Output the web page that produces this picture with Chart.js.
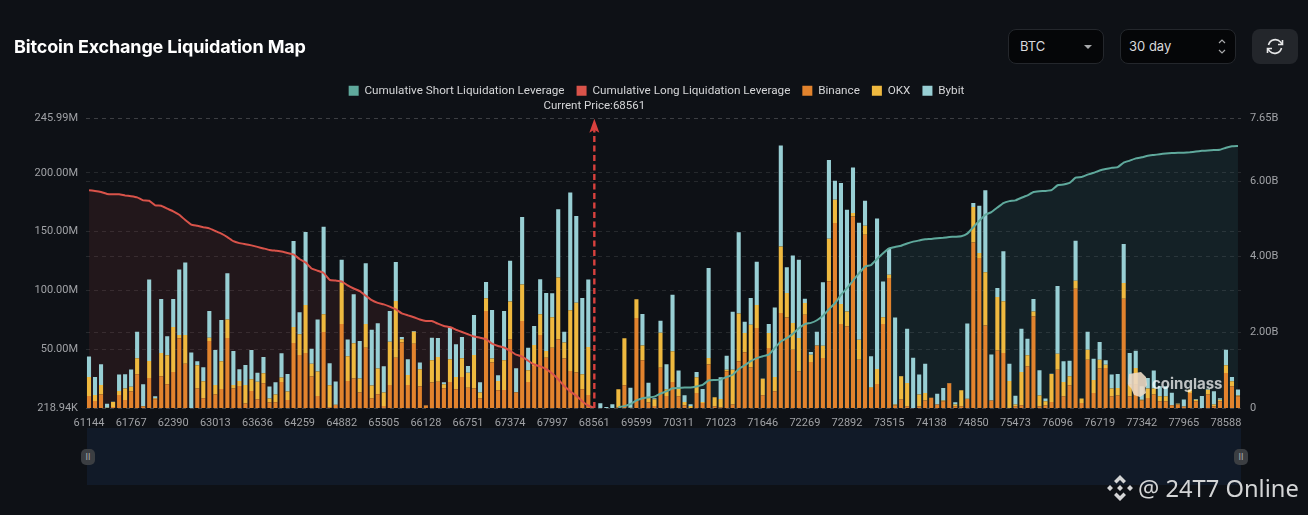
<!DOCTYPE html>
<html>
<head>
<meta charset="utf-8">
<title>Bitcoin Exchange Liquidation Map</title>
<script src="https://cdn.jsdelivr.net/npm/chart.js@4/dist/chart.umd.min.js"></script>
<style>
  html, body { margin: 0; padding: 0; background: #0e1116; }
  body { width: 1308px; height: 515px; position: relative; overflow: hidden; font-family: Inter, sans-serif; }
  #chart { position: absolute; left: 0; top: 0; }
  #title { position: absolute; left: 14px; top: 35px; color: #fff; font-size: 18px; font-weight: 700; letter-spacing: -0.16px; line-height: 24px; }
  .ctl { position: absolute; top: 29px; height: 33px; line-height: 33px; background: #050608; border: 1px solid #24272c; border-radius: 8px; color: #d8d9db; font-size: 13px; box-sizing: content-box; }
  #coin { left: 1008px; width: 94px; }
  #coin span { margin-left: 11px; }
  #period span { margin-left: 8px; }
  #coin svg, #period svg { position: absolute; top: 0; }
  #period { left: 1120px; width: 114px; }
  #refresh { position: absolute; left: 1252px; top: 29px; width: 46px; height: 35px; background: #23262b; border-radius: 8px; }
  #slider { position: absolute; left: 87px; top: 428px; width: 1154px; height: 57px; background: #111a28; }
  .handle { position: absolute; top: 449px; width: 14px; height: 16px; border-radius: 5px; background: #3b3e42; color: #a9abae; font-size: 9px; line-height: 15px; text-align: center; }
  #mark { position: absolute; left: 1152px; top: 374px; color: rgba(255,255,255,.72); font-size: 15px; font-weight: 700; }
  #stamp { position: absolute; left: 1138px; top: 471px; color: #d4d5d6; font-family: "Noto Sans", sans-serif; font-size: 23.7px; line-height: 34px; white-space: nowrap; }
</style>
</head>
<body>
<canvas id="chart" width="1308" height="515"></canvas>
<div id="title">Bitcoin Exchange Liquidation Map</div>
<div class="ctl" id="coin"><span>BTC</span>
  <svg style="left:74px" width="12" height="33"><path d="M1 15h8l-4 4z" fill="#a8a9ab"/></svg>
</div>
<div class="ctl" id="period"><span>30 day</span>
  <svg style="left:95px" width="12" height="33"><path d="M3 13l3-3 3 3M3 20l3 3 3-3" fill="none" stroke="#a8a9ab" stroke-width="1.2"/></svg>
</div>
<div id="refresh">
  <svg width="46" height="35" fill="none" stroke="#e6e7e8" stroke-width="1.6">
    <path d="M16.5 16a7 7 0 0 1 12-3l1.5 2M29.5 19a7 7 0 0 1-12 3l-1.5-2"/>
    <path d="M30.5 11v4.500h-4.500M15.500 24v-4.500h4.500"/>
  </svg>
</div>
<div id="slider"></div>
<div class="handle" style="left:81px">II</div>
<div class="handle" style="left:1234px">II</div>
<svg style="position:absolute;left:1125px;top:371px" width="24" height="27">
  <path d="M4 3l12-2 5 5 1 8-2 3 1 5-6 4-6-2-3-7-3-3z" fill="#ecd9c4" opacity=".9"/>
</svg>
<div id="mark">coinglass</div>
<svg style="position:absolute;left:1106px;top:474px" width="28" height="28" fill="#d4d5d6">
  <path d="M14 1l6 6-2.500 2.500L14 6l-3.500 3.500L8 7zM14 27l6-6-2.500-2.500L14 22l-3.500-3.500L8 21zM1 14l3-3 3 3-3 3zM21 14l3-3 3 3-3 3zM14 11l3 3-3 3-3-3z"/>
</svg>
<div id="stamp">@ 24T7 Online</div>

<script>
// Data (bars in millions, cumulative lines in billions)
const tickLabels = ["61144", "61767", "62390", "63013", "63636", "64259", "64882", "65505", "66128", "66751", "67374", "67997", "68561", "69599", "70311", "71023", "71646", "72269", "72892", "73515", "74138", "74850", "75473", "76096", "76719", "77342", "77965", "78588"];
const leftTickValues = [0.21894, 50, 100, 150, 200, 245.99];
const leftTickLabels = ["218.94K", "50.00M", "100.00M", "150.00M", "200.00M", "245.99M"];
const rightTickValues = [0, 2, 4, 6, 7.65];
const rightTickLabels = ["0", "2.00B", "4.00B", "6.00B", "7.65B"];
const currentPrice = "68561";
const currentIndex = 84;
const shortStart = 88;

const binance = [10.5, 6.2, 11.6, 0.3, 1.1, 11.3, 7.1, 14.2, 28.9, 1.4, 25.8, 7.6, 27.2, 20.4, 30.8, 59.4, 37.9, 0.2, 16.7, 8.5, 57.2, 11.6, 16.4, 59.7, 16.7, 19, 4, 14.7, 7.6, 21.2, 4.8, 5.1, 22.4, 7.1, 55.5, 45.3, 47, 26.9, 10.5, 64.8, 1.1, 2.8,
  71.6, 23.2, 25.2, 13.3, 51.5, 8.5, 11.9, 2, 19.8, 43, 55.8, 19.8, 54.9, 18.4, 2.4, 21.8, 22.6, 17, 22.4, 16.1, 26.6, 17.5, 16.7, 8.5, 82.6, 38.8, 15.3, 15.6, 58.6, 13.3, 74.1, 22.4, 35.9, 62.3, 43, 51.5, 58.6, 42.2, 31.7, 30.3, 16.1, 11.3,
  0, 0.1, 0, 0, 0.6, 19.5, 0.2, 76.7, 40.7, 4.8, 2, 34.5, 10.5, 22.4, 10.2, 2.5, 0.2, 13, 4.5, 37.1, 1.7, 0.8, 31.4, 3.1, 39.9, 47.5, 34.8, 68.2, 11, 51.2, 14.4, 80.9, 77.2, 49.8, 31.4, 79.5, 39.3, 53.2, 42.7, 107.8, 157.3, 71.6, 69.6, 163, 41.3, 147.4, 17.3, 20.7, 71.6, 110.6, 2.5, 7.4, 1.7, 0.1, 1.7, 6.5, 8.8, 3.1, 5.9, 21.2, 1.7, 1.7, 7.9,
  140.9, 127.6, 70.2, 6.5, 49, 47, 0.2, 1.7, 2.5, 35.7, 78.1, 1.7, 2.5, 5.4, 32.8, 10.2, 19.5, 101.6, 4.5, 41.3, 13, 33.7, 34.2, 10.2, 10.8, 93.1, 10.2, 20.1, 6.5, 8.8, 11.6, 5.9, 5.9, 2.5, 3.1, 1.4, 13, 5.9, 0.1, 11.6, 1.7, 5.9, 30, 18.7, 10.2];

const okx = [16.1, 5.1, 8.2, 0.2, 4.2, 3.4, 9.6, 4, 13.6, 0.6, 14.4, 0.8, 19.8, 24.6, 38.2, 2.8, 24.3, 0.1, 19.8, 14.4, 2.8, 8.2, 23.5, 15.8, 3.1, 4.2, 15.8, 9.9, 15, 8.5, 3.4, 6.5, 3.7, 7.1, 13.6, 17.5, 40.7, 11, 20.7, 15, 18.4, 0.1,
  35.1, 20.9, 30, 11.9, 20.1, 10.8, 21.8, 11.3, 36.8, 48.1, 2.8, 8.5, 10.2, 14.7, 0.1, 19, 20.9, 3.4, 19.2, 10.5, 15.8, 12.7, 28.6, 4.8, 10.8, 3.4, 7.9, 25.2, 32, 0.2, 31.1, 9.9, 17.8, 17.5, 5.7, 25.8, 52.4, 13.6, 51.5, 59.4, 12.7, 40.8,
  0, 0.1, 0, 0.1, 15.5, 39.9, 0.2, 15.8, 12.7, 4.2, 5.7, 29.7, 5.7, 26, 7.1, 2.8, 1.7, 13.3, 0.8, 5.7, 7.6, 7.1, 1.4, 29.7, 40.7, 16.4, 36.2, 19.5, 14.1, 12.7, 12.2, 56.6, 20.7, 22.6, 28.3, 9.9, 6.2, 0.1, 10.5, 36.2, 19.8, 17, 12.7, 2.8, 17, 7.6, 0.6, 12.7, 5.7, 2.8, 0.6, 19.8, 19.8, 0.1, 9.9, 6.5, 0.1, 0.1, 0.6, 0.1, 1.4, 13.6, 0.1,
  30, 4.2, 45.3, 0.1, 45.6, 43.9, 22.9, 1.4, 28.3, 9.3, 4.2, 9.1, 3.4, 23.8, 13.6, 12.2, 7.6, 6.8, 3.7, 8.5, 11, 7.6, 2.8, 6.5, 6.5, 13.3, 9.9, 14.1, 0.8, 7.9, 5.1, 4.2, 4.2, 0.1, 0.8, 0.1, 2.8, 1.4, 0.1, 4.2, 1.4, 1.4, 6.5, 4.2, 0.6];

const bybit = [17.3, 15.3, 17.5, 3.4, 0.2, 13.9, 12.2, 14.7, 22.6, 18.4, 69.1, 1.7, 45.8, 16.1, 23.8, 55.7, 61.7, 47, 3.4, 11.9, 22.6, 29.7, 35.1, 39.3, 28.9, 9.9, 17, 24.9, 7.6, 13.9, 10.2, 10.5, 20.7, 15, 73, 18.7, 62, 12.7, 44.1, 74.4, 18.7, 19.8,
  19.5, 14.4, 41.6, 32, 51.5, 47.3, 38.5, 22.4, 26, 33.1, 2, 13.3, 0.6, 5.7, 0.1, 19.2, 16.1, 1.7, 26.9, 27.7, 18.1, 5.7, 34, 8.8, 13.9, 41.3, 4.8, 41.9, 34.8, 20.4, 57.2, 19, 16.1, 29.7, 49.2, 20.4, 58, 9.3, 100.2, 73.6, 64.8, 57.2,
  0, 4, 1.1, 3.4, 0.1, 0.1, 17, 0.1, 26.6, 12.7, 0.8, 10.2, 21.2, 48.1, 14.7, 5.7, 1.4, 4.5, 11, 76.4, 0.1, 18.4, 11.9, 49.2, 69, 9.6, 22.6, 36.8, 0.1, 7.6, 59.1, 85.7, 21.8, 57.4, 66.5, 3.7, 2.3, 11.6, 53.8, 66.8, 16.1, 102.7, 86.3, 38.8, 99.3, 21.2, 26.3, 127.9, 30.3, 22.1, 74.1, 0.1, 46.1, 42.7, 17, 24.9, 0.1, 9.1, 10.8, 0.1, 2, 0.1, 64,
  3.4, 40.2, 69.6, 39, 7.6, 42.4, 14.7, 7.6, 36.8, 14.1, 10.5, 21.5, 2.3, 0.1, 57.4, 17.5, 13.3, 34, 0.1, 15.3, 18.1, 15, 3.7, 11.9, 11.9, 33.1, 26.9, 14.7, 11.3, 9.1, 15.3, 8.5, 8.5, 10.5, 0.1, 5.9, 0.1, 0.6, 10.2, 0.8, 11.3, 1.1, 13.3, 3.7, 5.1];

const longCum = [5.76, 5.74, 5.71, 5.66, 5.65, 5.65, 5.62, 5.60, 5.57, 5.49, 5.48, 5.36, 5.35, 5.27, 5.20, 5.11, 4.97, 4.85, 4.82, 4.78, 4.75, 4.68, 4.61, 4.52, 4.41, 4.36, 4.33, 4.30, 4.26, 4.22, 4.18, 4.16, 4.14, 4.10, 4.06, 3.94, 3.85, 3.69, 3.63, 3.57, 3.39, 3.37,
  3.35, 3.24, 3.16, 3.09, 2.97, 2.85, 2.78, 2.74, 2.68, 2.61, 2.50, 2.45, 2.40, 2.34, 2.30, 2.30, 2.23, 2.17, 2.14, 2.07, 2.01, 1.95, 1.89, 1.86, 1.82, 1.70, 1.64, 1.60, 1.51, 1.41, 1.36, 1.25, 1.15, 1.10, 1.03, 0.91, 0.76, 0.58, 0.44, 0.32, 0.18, 0.06, 0];

const shortCum = [0.02, 0.05, 0.1, 0.2, 0.26, 0.28, 0.3, 0.38, 0.44, 0.52, 0.53, 0.54, 0.54, 0.57, 0.61, 0.73, 0.74, 0.75, 0.82, 0.88, 1.03, 1.13, 1.24, 1.32, 1.37, 1.41, 1.59, 1.76, 1.85, 1.96, 2.11, 2.22, 2.25, 2.32, 2.44, 2.61, 2.77, 2.99, 3.17, 3.37, 3.56, 3.74, 3.78, 3.94, 4.09, 4.22, 4.26, 4.29, 4.35, 4.40, 4.43, 4.46, 4.47, 4.49, 4.50, 4.52, 4.53, 4.54, 4.61, 4.78, 4.95, 5.11,
  5.18, 5.30, 5.42, 5.47, 5.49, 5.56, 5.62, 5.71, 5.73, 5.74, 5.76, 5.89, 5.91, 5.95, 6.09, 6.11, 6.17, 6.22, 6.28, 6.32, 6.35, 6.37, 6.49, 6.54, 6.60, 6.63, 6.67, 6.69, 6.71, 6.73, 6.74, 6.75, 6.75, 6.76, 6.78, 6.80, 6.81, 6.82, 6.83, 6.88, 6.92, 6.93];

// One label per bar, only every 7th one is printed
const categories = binance.map((v, i) => (i % 7 === 0 ? tickLabels[i / 7] : ""));

// Extra room under the legend and a small nudge to the right
const legendTweak = {
  id: "legendTweak",
  beforeInit(chart) {
    const legend = chart.legend;
    const fit = legend.fit;
    const draw = legend.draw;
    legend.fit = function () {
      fit.call(this);
      this.height += 12;
    };
    legend.draw = function () {
      chart.ctx.save();
      chart.ctx.translate(2.5, 0);
      draw.call(this);
      chart.ctx.restore();
    };
  },
};

// Dashed arrow and label at the current price
const priceMarker = {
  id: "priceMarker",
  afterDatasetsDraw(chart) {
    const { ctx, chartArea, scales } = chart;
    const x = scales.x.getPixelForValue(currentIndex);
    ctx.save();
    ctx.strokeStyle = "#d8413e";
    ctx.fillStyle = "#d8413e";
    ctx.lineWidth = 2.4;
    ctx.setLineDash([6, 3.5]);
    ctx.beginPath();
    ctx.moveTo(x, chartArea.bottom);
    ctx.lineTo(x, chartArea.top + 10);
    ctx.stroke();
    ctx.setLineDash([]);
    ctx.beginPath();
    ctx.moveTo(x, chartArea.top);
    ctx.lineTo(x + 5, chartArea.top + 14);
    ctx.lineTo(x, chartArea.top + 11);
    ctx.lineTo(x - 5, chartArea.top + 14);
    ctx.closePath();
    ctx.fill();
    ctx.fillStyle = "#d5d6d8";
    ctx.font = "11.5px Roboto";
    ctx.textAlign = "center";
    ctx.textBaseline = "middle";
    ctx.fillText("Current Price:" + currentPrice, x, chartArea.top - 13);
    ctx.restore();
  },
};

new Chart(document.getElementById("chart"), {
  type: "bar",
  data: {
    labels: categories,
    datasets: [
      {
        type: "line",
        label: "Cumulative Short Liquidation Leverage",
        data: Array(shortStart).fill(null).concat(shortCum),
        yAxisID: "y1",
        order: 0,
        borderColor: "#5fa99c",
        backgroundColor: "#5fa99c",
        borderWidth: 2,
        pointRadius: 0,
        tension: 0.1,
        fill: { target: "origin", above: "rgba(70, 160, 170, 0.11)" },
      },
      {
        type: "line",
        label: "Cumulative Long Liquidation Leverage",
        data: longCum,
        yAxisID: "y1",
        order: 0,
        borderColor: "#d9534a",
        backgroundColor: "#d9534a",
        borderWidth: 2,
        pointRadius: 0,
        tension: 0.1,
        fill: { target: "origin", above: "rgba(217, 83, 74, 0.1)" },
      },
      { label: "Binance", data: binance, order: 1, backgroundColor: "#e2832d" },
      { label: "OKX", data: okx, order: 1, backgroundColor: "#efb93f" },
      { label: "Bybit", data: bybit, order: 1, backgroundColor: "#98cfd4" },
    ],
  },
  options: {
    responsive: false,
    animation: false,
    devicePixelRatio: 1,
    layout: { padding: { top: 73, bottom: 0, left: 0, right: 0 } },
    datasets: { bar: { categoryPercentage: 1, barPercentage: 0.68 } },
    scales: {
      x: {
        stacked: true,
        grid: { display: false },
        border: { display: false },
        afterFit(scale) { scale.height = 107; },
        ticks: {
          autoSkip: false,
          maxRotation: 0,
          padding: 1,
          color: "#a0a2a6",
          font: { family: "Roboto", size: 11 },
        },
      },
      y: {
        stacked: true,
        min: leftTickValues[0],
        max: 245.99,
        position: "left",
        border: { display: false, dash: [4, 4] },
        grid: { color: "rgba(255,255,255,0.1)", drawTicks: false },
        afterFit(scale) { scale.width = 86; },
        afterBuildTicks(scale) { scale.ticks = leftTickValues.map((v) => ({ value: v })); },
        ticks: {
          padding: 8,
          color: "#a0a2a6",
          font: { family: "Roboto", size: 11 },
          callback: (v, i) => leftTickLabels[i],
        },
      },
      y1: {
        stacked: false,
        min: 0,
        max: 7.65,
        position: "right",
        border: { display: false, dash: [4, 4] },
        grid: { color: "rgba(255,255,255,0.1)", drawTicks: false },
        afterFit(scale) { scale.width = 67; },
        afterBuildTicks(scale) { scale.ticks = rightTickValues.map((v) => ({ value: v })); },
        ticks: {
          padding: 9,
          color: "#a0a2a6",
          font: { family: "Roboto", size: 11 },
          callback: (v, i) => rightTickLabels[i],
        },
      },
    },
    plugins: {
      filler: { drawTime: "beforeDatasetsDraw" },
      tooltip: { enabled: false },
      legend: {
        position: "top",
        labels: {
          boxWidth: 10,
          boxHeight: 10,
          padding: 12,
          color: "#d5d6d8",
          font: { family: "Roboto", size: 11.7 },
          generateLabels(chart) {
            return Chart.defaults.plugins.legend.labels.generateLabels(chart).map((item) => {
              item.lineWidth = 0;
              return item;
            });
          },
        },
      },
    },
  },
  plugins: [legendTweak, priceMarker],
});
</script>
</body>
</html>
